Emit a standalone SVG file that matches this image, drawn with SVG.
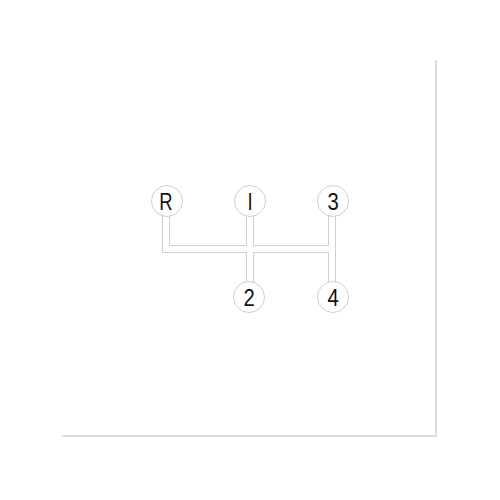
<svg xmlns="http://www.w3.org/2000/svg" width="500" height="500" viewBox="0 0 500 500">
<style>
.frame{fill:none;stroke:#dcdcdc;stroke-width:2}
.outer{fill:none;stroke:#d0d0d0;stroke-width:8;stroke-linejoin:miter;stroke-linecap:butt}
.inner{fill:none;stroke:#ffffff;stroke-width:6;stroke-linejoin:miter;stroke-linecap:butt}
.knob{fill:#ffffff;stroke:#cfcfcf;stroke-width:1}
.lbl{font-family:"Liberation Sans",Arial,sans-serif;font-size:23px;fill:#111;text-anchor:middle}
</style>
<rect width="500" height="500" fill="#ffffff"/>
<path class="frame" d="M436,60 V436 H62"/>
<g id="connectors">
<path class="outer" d="M166,214 V249 H332 M250,214 V284 M332,214 V284"/>
<path class="inner" d="M166,214 V249 H332 M250,214 V284 M332,214 V284"/>
</g>
<g id="node-R"><circle class="knob" cx="167" cy="201" r="15.5"/><text class="lbl" transform="translate(166,210) scale(0.8,1)">R</text></g>
<g id="node-I"><circle class="knob" cx="250" cy="201" r="15.5"/><text class="lbl" transform="translate(250,210) scale(0.8,1)">I</text></g>
<g id="node-3"><circle class="knob" cx="333" cy="201" r="15.5"/><text class="lbl" transform="translate(333,210) scale(0.88,1)">3</text></g>
<g id="node-2"><circle class="knob" cx="249" cy="297" r="15.5"/><text class="lbl" transform="translate(249,306) scale(0.88,1)">2</text></g>
<g id="node-4"><circle class="knob" cx="333" cy="297" r="15.5"/><text class="lbl" transform="translate(333,306) scale(0.88,1)">4</text></g>
</svg>
